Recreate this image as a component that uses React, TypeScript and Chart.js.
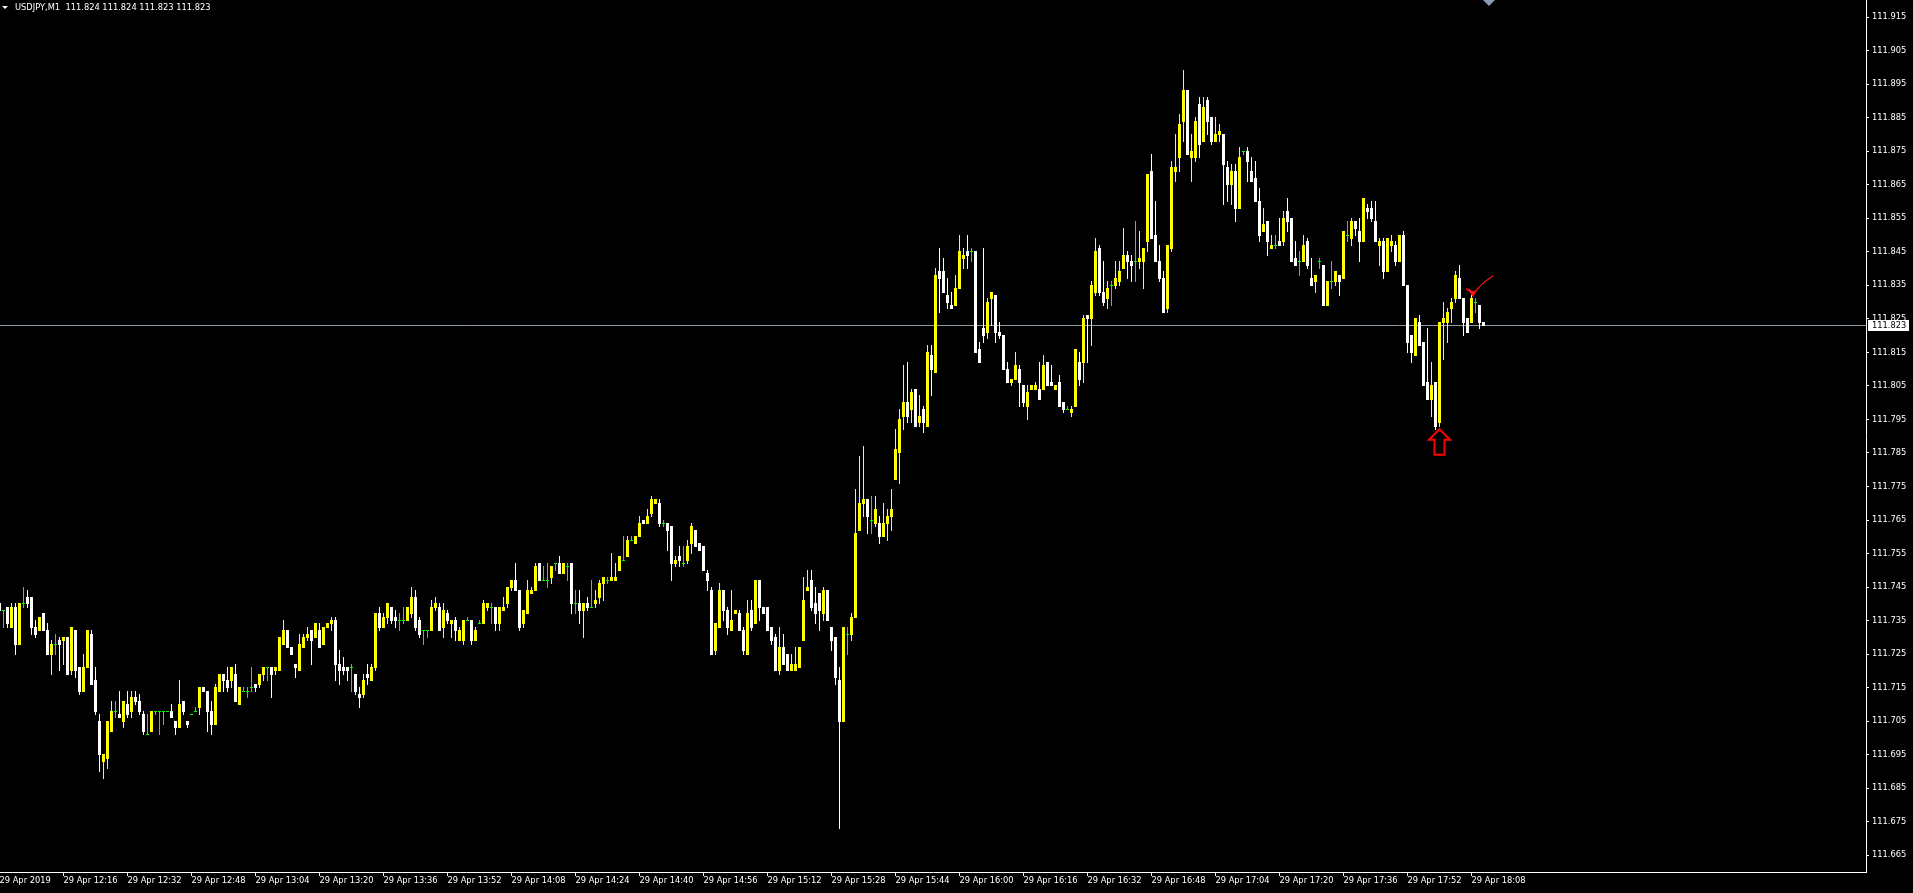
import React, { useEffect, useRef } from "react";
import { Chart, registerables } from "chart.js";

Chart.register(...registerables);

// ---------- data ----------
const SYMBOL = "USDJPY,M1";
// prices are given in points (0.001) above this base price
const BASE_PRICE = 111.7;
const BID_PRICE = 111.823;

// one bar per minute, bar 0 = 29 Apr 2019 12:00
const OPEN_PTS = [
  40,38,39,33,39,28,40,42,42,33, 32,37,32,25,28,29,29,30,20,32,
  21,14,21,31,17,5,-7,-6,2,8, 7,5,10,8,12,11,7,1,2,8,
  8,8,8,8,5,3,11,5,7,8, 9,15,14,8,4,14,19,17,17,19,
  10,14,14,15,16,16,19,21,21,20, 20,28,32,27,22,20,27,30,32,30,
  32,28,33,34,35,22,21,21,21,19, 13,13,19,17,21,37,33,36,39,36,
  35,35,35,37,42,35,32,32,32,39, 39,33,37,34,35,29,29,35,35,29,
  34,34,39,39,39,34,38,40,45,47, 44,34,37,43,44,52,47,47,48,52,
  52,49,51,52,40,40,38,40,39,40, 42,46,47,47,47,50,53,54,59,58,
  60,65,64,67,70,70,64,64,63,52, 54,52,53,58,62,58,57,49,44,26,
  33,44,38,32,37,37,32,25,38,34, 47,39,39,33,30,20,27,25,20,20,
  21,29,44,47,40,43,37,44,33,30, 17,5,31,31,36,62,70,71,65,64,
  64,60,64,66,77,85,96,100,98,104, 94,98,93,114,109,139,139,132,129,129,
  134,143,145,145,145,116,122,121,131,132, 121,120,110,106,107,110,105,99,104,104,
  104,104,112,106,104,106,100,98,97,99, 112,112,126,125,133,146,133,131,135,135,
  136,140,144,142,142,142,142,148,169,150, 142,137,128,146,169,173,184,193,173,173,
  189,178,190,185,178,180,180,170,165,169, 158,175,175,169,167,160,151,154,146,147,
  148,148,157,155,143,142,142,148,137,136, 142,141,129,136,136,138,137,150,149,154,
  151,148,158,158,154,147,148,139,147,147, 142,150,135,120,114,124,118,106,101,106,
  94,124,124,128,131,137,131,125,124,130, 129,124,
];
const HIGH_PTS = [
  41,38,39,40,40,40,45,44,42,35, 36,37,34,29,31,30,30,30,33,32,
  21,25,32,32,21,7,-5,5,11,11, 14,11,14,14,14,13,8,7,8,8,
  8,8,8,10,5,17,11,5,7,9, 15,15,14,11,16,19,19,21,21,22,
  15,15,15,21,16,19,21,21,21,21, 30,35,32,27,22,31,31,33,32,34,
  34,33,34,36,36,26,24,21,22,19, 15,19,22,22,37,39,37,40,39,38,
  37,39,39,45,44,36,32,32,41,42, 40,40,38,35,36,33,35,36,35,33,
  35,41,40,40,39,39,42,45,47,52, 44,38,47,45,52,52,51,52,51,52,
  54,52,52,52,44,44,40,42,47,44, 47,48,48,55,52,54,60,60,60,60,
  66,65,68,72,71,71,65,64,63,54, 57,57,59,64,62,58,57,50,45,34,
  46,44,39,44,38,38,33,41,41,47, 47,39,39,33,31,33,31,25,25,27,
  27,48,50,50,45,43,45,44,33,30, 21,33,33,37,74,84,87,71,72,72,
  66,70,68,74,92,98,111,112,104,104, 102,99,117,117,140,146,143,137,133,138,
  150,146,150,146,145,118,146,131,133,132, 124,120,112,107,115,111,105,105,105,106,
  112,114,112,111,105,108,100,99,99,116, 115,126,126,136,149,147,142,136,136,142,
  142,152,145,144,154,151,146,168,174,160, 147,139,147,172,180,186,199,193,180,185,
  191,191,191,185,185,183,180,172,171,171, 176,175,176,173,172,164,158,154,150,150,
  155,157,161,155,148,145,150,149,143,138, 143,141,136,142,139,138,151,154,155,154,
  155,161,159,160,160,149,149,149,150,148, 150,151,135,120,125,126,118,122,112,106,
  124,130,128,131,139,141,131,125,132,131, 129,124,
];
const LOW_PTS = [
  37,33,33,33,25,28,39,39,31,30, 32,32,25,19,25,20,22,19,19,18,
  13,14,21,16,7,-10,-12,-9,2,6, 6,3,6,6,10,7,1,1,2,7,
  1,4,8,6,1,3,7,3,7,8, 7,14,2,1,4,14,14,14,15,11,
  10,14,12,14,14,15,17,17,12,19, 20,28,27,25,18,20,27,29,22,30,
  27,28,33,32,17,16,19,17,14,13, 9,12,16,17,20,32,33,34,34,33,
  32,34,35,36,32,30,28,30,32,38, 32,30,34,30,29,29,28,35,28,29,
  34,34,38,34,32,32,38,39,44,44, 32,33,37,43,44,47,47,45,46,50,
  49,49,47,37,37,34,30,38,39,39, 40,41,46,47,47,50,53,54,59,58,
  60,64,64,66,70,63,63,56,47,51, 51,51,52,55,57,56,50,44,25,25,
  33,35,31,32,37,32,25,25,32,34, 35,37,32,28,20,19,22,20,20,20,
  21,29,44,38,34,32,35,35,26,16, -27,5,25,29,36,62,66,61,61,63,
  58,60,59,62,77,76,92,94,94,93, 93,91,93,102,109,127,133,128,128,129,
  134,140,140,142,115,112,118,119,123,118, 119,110,106,105,107,99,99,95,104,104,
  101,104,105,105,104,99,97,98,96,99, 105,106,112,117,132,132,129,128,129,134,
  135,140,137,136,136,140,134,145,149,142, 136,127,127,145,166,169,178,174,166,172,
  173,178,180,177,178,178,159,160,159,154, 158,174,166,166,160,148,151,144,146,146,
  147,147,151,142,141,138,142,140,135,133, 140,129,129,134,135,132,137,148,147,150,
  142,148,155,154,148,141,137,139,145,141, 142,135,115,112,114,117,105,101,96,92,
  93,113,118,124,130,131,120,121,124,127, 122,123,
];
const CLOSE_PTS = [
  38,38,34,39,28,40,40,40,33,31, 36,32,25,28,28,28,30,19,33,20,
  14,21,32,16,8,-5,-5,5,8,8, 6,11,7,12,11,8,2,1,8,8,
  8,8,8,6,3,10,8,4,7,8, 15,14,8,4,15,19,17,15,21,11,
  15,14,14,15,15,19,21,21,19,21, 30,32,27,25,21,28,30,31,29,34,
  27,33,34,35,22,20,20,20,21,14, 12,17,18,21,37,33,36,40,35,35,
  35,35,39,42,33,31,32,32,39,40, 32,38,35,35,32,32,35,35,29,32,
  34,40,40,39,34,39,39,45,47,44, 33,38,44,44,51,47,47,47,51,52,
  49,52,51,40,40,38,40,39,39,41, 46,48,47,48,48,54,53,59,59,60,
  64,64,66,71,71,64,64,62,52,53, 53,52,57,63,57,56,50,47,25,34,
  44,38,33,35,38,32,26,37,33,47, 39,37,32,29,20,27,22,20,22,22,
  27,41,45,39,37,38,44,35,29,18, 5,33,31,36,61,70,71,66,65,68,
  60,64,66,68,86,95,100,96,103,93, 96,94,115,110,138,137,133,130,128,134,
  145,144,144,145,115,112,120,130,133,121, 120,110,106,107,111,106,100,103,105,105,
  101,111,105,105,105,99,98,98,98,116, 107,125,125,135,145,133,130,134,135,137,
  139,144,142,141,142,143,146,168,149,142, 137,127,147,170,170,183,193,174,175,184,
  177,188,184,178,180,181,171,165,169,158, 173,175,172,166,160,150,153,148,147,147,
  147,155,154,142,141,142,147,141,135,138, 142,129,136,136,139,136,151,150,154,152,
  148,161,157,155,148,148,139,149,148,142, 150,135,118,115,125,117,105,101,105,93,
  124,125,127,130,138,131,124,121,131,130, 124,123,
];

const TIME_TICK_BARS = [0,16,32,48,64,80,96,112,128,144,160,176,192,208,224,240,256,272,288,304,320,336,352,368];
const TIME_TICK_LABELS = [
  "29 Apr 2019","29 Apr 12:16","29 Apr 12:32","29 Apr 12:48","29 Apr 13:04","29 Apr 13:20",
  "29 Apr 13:36","29 Apr 13:52","29 Apr 14:08","29 Apr 14:24","29 Apr 14:40","29 Apr 14:56",
  "29 Apr 15:12","29 Apr 15:28","29 Apr 15:44","29 Apr 16:00","29 Apr 16:16","29 Apr 16:32",
  "29 Apr 16:48","29 Apr 17:04","29 Apr 17:20","29 Apr 17:36","29 Apr 17:52","29 Apr 18:08",
];
const PRICE_TICKS = [
  111.665,111.675,111.685,111.695,111.705,111.715,111.725,111.735,111.745,111.755,
  111.765,111.775,111.785,111.795,111.805,111.815,111.825,111.835,111.845,111.855,
  111.865,111.875,111.885,111.895,111.905,111.915,
];

// hand-drawn marks on the chart (bar index, price)
const ARROW_MARK = { bar: 360, price: 111.7921 };
const CHECK_MARK = { bar: 368.5, price: 111.832 };

// ---------- styling ----------
const W = 1913;
const H = 893;
const AXIS_W = 47;
const AXIS_H = 21;
const BAR_PX = 4;
const FONT = '"DejaVu Sans", sans-serif';
const FONT_SIZE = 8.3;
const BULL = "#ffff00";
const BEAR = "#ffffff";
const DOJI = "#00ff00";
const BID_LINE = "#8c9aa8";

const toPrice = (pts: number) => BASE_PRICE + pts / 1000;
const opens = OPEN_PTS.map(toPrice);
const highs = HIGH_PTS.map(toPrice);
const lows = LOW_PTS.map(toPrice);
const closes = CLOSE_PTS.map(toPrice);

const colors = opens.map((o, i) =>
  closes[i] > o + 1e-9 ? BULL : closes[i] < o - 1e-9 ? BEAR : DOJI
);

const Y_MAX = 111.9201;
const Y_MIN = Y_MAX - 0.26007;
const X_MIN = 0.125;
const X_MAX = X_MIN + (W - AXIS_W) / BAR_PX;

const noPad = (s: any) => {
  s.paddingTop = 0;
  s.paddingBottom = 0;
  s.paddingLeft = 0;
  s.paddingRight = 0;
};

const candlePixelPlugin = {
  id: "candlePixels",
  afterDatasetsUpdate(chart: any) {
    const ys = chart.scales.y;
    const row = (p: number) => Math.floor(ys.getPixelForValue(p));
    const wick = chart.getDatasetMeta(0).data;
    const body = chart.getDatasetMeta(1).data;
    for (let i = 0; i < opens.length; i++) {
      const hi = Math.max(highs[i], opens[i], closes[i]);
      const lo = Math.min(lows[i], opens[i], closes[i]);
      if (wick[i]) {
        wick[i].y = row(hi);
        wick[i].base = row(lo) + 1;
      }
      if (body[i]) {
        body[i].y = row(Math.max(opens[i], closes[i]));
        body[i].base = row(Math.min(opens[i], closes[i])) + 1;
      }
    }
  },
  beforeDatasetsDraw(chart: any) {
    const { ctx, chartArea } = chart;
    const y = Math.floor(chart.scales.y.getPixelForValue(BID_PRICE)) + 0.5;
    ctx.save();
    ctx.strokeStyle = BID_LINE;
    ctx.lineWidth = 1;
    ctx.beginPath();
    ctx.moveTo(chartArea.left, y);
    ctx.lineTo(chartArea.right, y);
    ctx.stroke();
    ctx.restore();
  },
  afterDraw(chart: any) {
    const { ctx, chartArea } = chart;
    const xs = chart.scales.x;
    const ys = chart.scales.y;
    ctx.save();
    // header
    ctx.fillStyle = "#ffffff";
    ctx.beginPath();
    ctx.moveTo(2, 6);
    ctx.lineTo(8, 6);
    ctx.lineTo(5, 9);
    ctx.closePath();
    ctx.fill();
    ctx.font = `${FONT_SIZE}px ${FONT}`;
    ctx.textBaseline = "middle";
    ctx.textAlign = "left";
    const n = opens.length - 1;
    const head = `${SYMBOL}  ${opens[n].toFixed(3)} ${highs[n].toFixed(3)} ${lows[n].toFixed(3)} ${closes[n].toFixed(3)}`;
    ctx.fillText(head, 15, 7.5);

    // bid price box on the axis
    const by = Math.floor(ys.getPixelForValue(BID_PRICE));
    ctx.fillStyle = "#ffffff";
    ctx.fillRect(chartArea.right + 2, by - 5, 41, 11);
    ctx.fillStyle = "#000000";
    ctx.fillText(BID_PRICE.toFixed(3), chartArea.right + 6, by + 0.5);

    // chart shift marker at top
    ctx.fillStyle = "#8a9db3";
    ctx.beginPath();
    ctx.moveTo(1483, 0);
    ctx.lineTo(1495, 0);
    ctx.lineTo(1489, 6);
    ctx.closePath();
    ctx.fill();

    // red up arrow
    const ax = xs.getPixelForValue(ARROW_MARK.bar);
    const ay = ys.getPixelForValue(ARROW_MARK.price);
    ctx.strokeStyle = "#ff0000";
    ctx.lineWidth = 2;
    ctx.lineJoin = "miter";
    ctx.beginPath();
    ctx.moveTo(ax, ay);
    ctx.lineTo(ax + 10.5, ay + 10.5);
    ctx.lineTo(ax + 5, ay + 10.5);
    ctx.lineTo(ax + 5, ay + 25.5);
    ctx.lineTo(ax - 5, ay + 25.5);
    ctx.lineTo(ax - 5, ay + 10.5);
    ctx.lineTo(ax - 10.5, ay + 10.5);
    ctx.closePath();
    ctx.stroke();

    // red check mark (brush stroke)
    const cx = xs.getPixelForValue(CHECK_MARK.bar);
    const cy = ys.getPixelForValue(CHECK_MARK.price);
    ctx.fillStyle = "#ff1010";
    ctx.beginPath();
    ctx.moveTo(cx - 7.5, cy - 6.5);
    ctx.quadraticCurveTo(cx - 3, cy - 4, cx - 0.5, cy + 1);
    ctx.quadraticCurveTo(cx + 6, cy - 12, cx + 19.5, cy - 19.5);
    ctx.quadraticCurveTo(cx + 7, cy - 11, cx + 1.5, cy - 4);
    ctx.lineTo(cx - 1.5, cy - 4);
    ctx.quadraticCurveTo(cx - 3.5, cy - 6.5, cx - 7.5, cy - 6.5);
    ctx.closePath();
    ctx.fill();
    ctx.strokeStyle = "#ff1010";
    ctx.lineWidth = 1;
    ctx.stroke();
    ctx.restore();
  },
};

export default function App() {
  const ref = useRef<HTMLCanvasElement | null>(null);

  useEffect(() => {
    const canvas = ref.current;
    if (!canvas) return;
    const wickData = opens.map((_, i) => ({ x: i, y: [lows[i], highs[i]] }));
    const bodyData = opens.map((o, i) => ({ x: i, y: [o, closes[i]] }));

    const chart = new Chart(canvas, {
      type: "bar",
      data: {
        datasets: [
          {
            label: "wick",
            data: wickData as any,
            backgroundColor: colors,
            barThickness: 1,
            grouped: false,
            inflateAmount: 0,
            borderWidth: 0,
            order: 2,
          } as any,
          {
            label: "body",
            data: bodyData as any,
            backgroundColor: colors,
            barThickness: 3,
            minBarLength: 1,
            grouped: false,
            inflateAmount: 0,
            borderWidth: 0,
            order: 1,
          } as any,
        ],
      },
      options: {
        responsive: false,
        maintainAspectRatio: false,
        animation: false,
        devicePixelRatio: 1,
        layout: { padding: 0, autoPadding: false },
        events: [],
        plugins: {
          legend: { display: false },
          tooltip: { enabled: false },
          title: { display: false },
        },
        scales: {
          x: {
            type: "linear",
            min: X_MIN,
            max: X_MAX,
            offset: false,
            afterBuildTicks: (s: any) => {
              s.ticks = TIME_TICK_BARS.map((v) => ({ value: v }));
            },
            afterFit: (s: any) => {
              s.height = AXIS_H;
              noPad(s);
            },
            grid: {
              display: true,
              drawOnChartArea: false,
              drawTicks: true,
              tickLength: 4,
              offset: false,
              color: (c: any) => (c.index === 0 ? "rgba(0,0,0,0)" : "#ffffff"),
            },
            border: { display: true, color: "#ffffff", width: 1 },
            ticks: {
              autoSkip: false,
              maxRotation: 0,
              minRotation: 0,
              align: "start",
              padding: 0,
              color: "#ffffff",
              font: { family: FONT, size: FONT_SIZE },
              callback: (_v: any, i: number) => TIME_TICK_LABELS[i],
            },
          },
          y: {
            type: "linear",
            position: "right",
            min: Y_MIN,
            max: Y_MAX,
            afterBuildTicks: (s: any) => {
              s.ticks = PRICE_TICKS.map((v) => ({ value: v }));
            },
            afterFit: (s: any) => {
              s.width = AXIS_W;
              noPad(s);
            },
            grid: {
              display: true,
              drawOnChartArea: false,
              drawTicks: true,
              tickLength: 3,
              color: "#ffffff",
            },
            border: { display: true, color: "#ffffff", width: 1 },
            ticks: {
              autoSkip: false,
              padding: 3,
              color: "#ffffff",
              font: { family: FONT, size: FONT_SIZE },
              callback: (v: any) => Number(v).toFixed(3),
            },
          },
        },
      } as any,
      plugins: [candlePixelPlugin],
    });
    return () => chart.destroy();
  }, []);

  return (
    <div
      style={{
        position: "fixed",
        left: 0,
        top: 0,
        width: W,
        height: H,
        background: "#000000",
        overflow: "hidden",
      }}
    >
      <canvas ref={ref} width={W} height={H} style={{ display: "block", width: W, height: H }} />
    </div>
  );
}
